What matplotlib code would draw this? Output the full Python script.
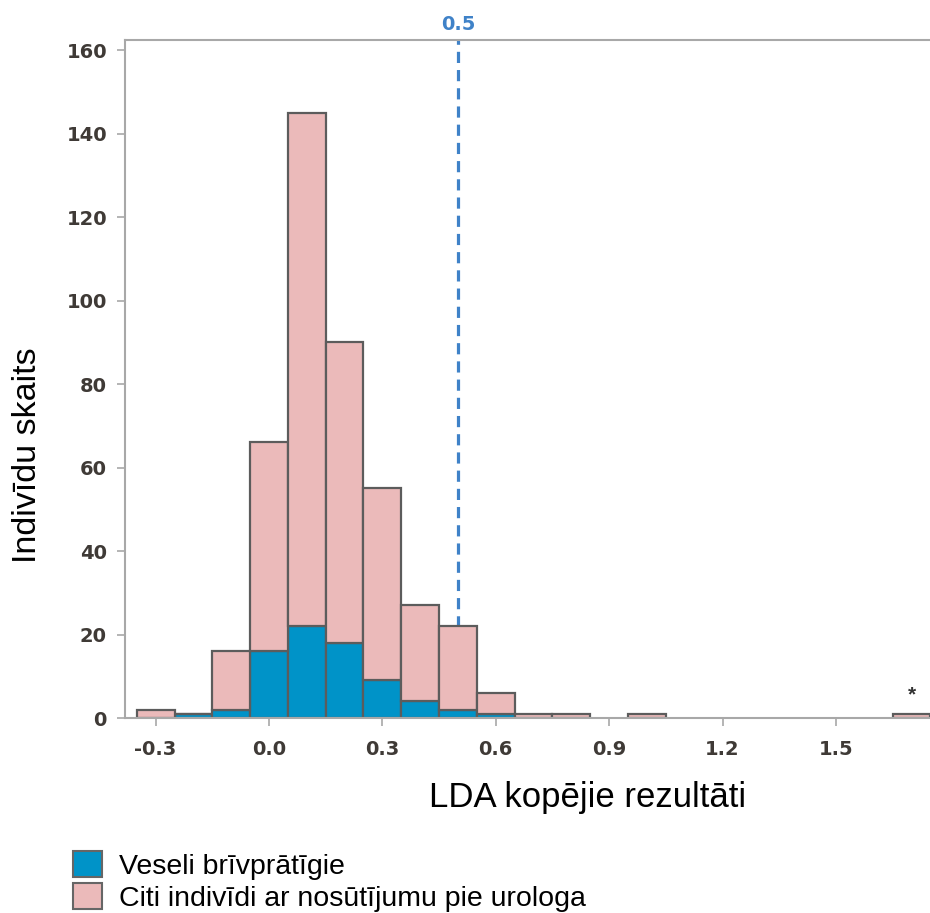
import numpy as np
import matplotlib.pyplot as plt
from matplotlib.patches import Patch

# bin centres (width 0.1) and counts
centers = [-0.3, -0.2, -0.1, 0.0, 0.1, 0.2, 0.3, 0.4, 0.5, 0.6, 0.7, 0.8, 1.0, 1.7]
total = [2, 1, 16, 66, 145, 90, 55, 27, 22, 6, 1, 1, 1, 1]
healthy = [0, 1, 2, 16, 22, 18, 9, 4, 2, 1, 0, 0, 0, 0]

xticks = [-0.3, 0.0, 0.3, 0.6, 0.9, 1.2, 1.5]
yticks = [0, 20, 40, 60, 80, 100, 120, 140, 160]
cutoff = 0.5

blue = '#0093c8'
pink = '#ebbaba'
edge = '#5c5c5c'
spine = '#a8a8a8'

plt.rcParams['font.family'] = ['Liberation Sans', 'DejaVu Sans']

fig = plt.figure(figsize=(9.3, 9.13), dpi=100)
ax = fig.add_axes([125/930, 1 - 718/913, 1 - 125/930, (718 - 40)/913])

centers = np.array(centers)
total = np.array(total)
healthy = np.array(healthy)
other = total - healthy

m = healthy > 0
ax.bar(centers[m], healthy[m], width=0.1, color=blue, edgecolor=edge, linewidth=1.6, zorder=2)
ax.bar(centers, other, bottom=healthy, width=0.1, color=pink, edgecolor=edge, linewidth=1.6, zorder=2)

# cut-off line sits behind the bars
ax.axvline(cutoff, color='#3f82c8', linestyle=(0, (3.5, 2.2)), linewidth=2.3, zorder=1)
ax.text(cutoff, 163.8, '0.5', color='#3f82c8', fontsize=14, fontweight='bold',
        family='DejaVu Sans', ha='center', va='bottom')
ax.text(1.7, 3.3, '*', fontsize=15, fontweight='bold', ha='center', va='bottom', color='#333333')

ax.set_xlim(-0.381, 1.749)
ax.set_ylim(0, 162.4)
ax.set_xticks(xticks)
ax.set_xticklabels(['%.1f' % t for t in xticks])
ax.set_yticks(yticks)

ax.spines['right'].set_visible(False)
for s in ['left', 'top', 'bottom']:
    ax.spines[s].set_color(spine)
    ax.spines[s].set_linewidth(1.5)
ax.tick_params(colors=spine, length=6, width=1.2, direction='out')
for lab in ax.get_xticklabels() + ax.get_yticklabels():
    lab.set_family('DejaVu Sans')
    lab.set_fontweight('bold')
    lab.set_fontsize(14)
    lab.set_color('#3f3a36')
ax.tick_params(axis='x', pad=10)
ax.tick_params(axis='y', pad=7)

fig.text(27/930, 1 - 455/913, 'Indivīdu skaits', rotation=90, fontsize=24.5,
         ha='center', va='center')
fig.text(588/930, 1 - 797/913, 'LDA kopējie rezultāti', fontsize=25,
         ha='center', va='center')

handles = [Patch(facecolor=blue, edgecolor='#666666', linewidth=1.5),
           Patch(facecolor=pink, edgecolor='#666666', linewidth=1.5)]
fig.legend(handles, ['Veseli brīvprātīgie', 'Citi indivīdi ar nosūtījumu pie urologa'],
           loc='upper left', bbox_to_anchor=(62/930, 1 - 840/913), frameon=False,
           fontsize=20.5, handlelength=1.0, handleheight=1.0, handletextpad=0.6,
           labelspacing=0.12, borderaxespad=0)

fig.savefig('out.png', dpi=100)
